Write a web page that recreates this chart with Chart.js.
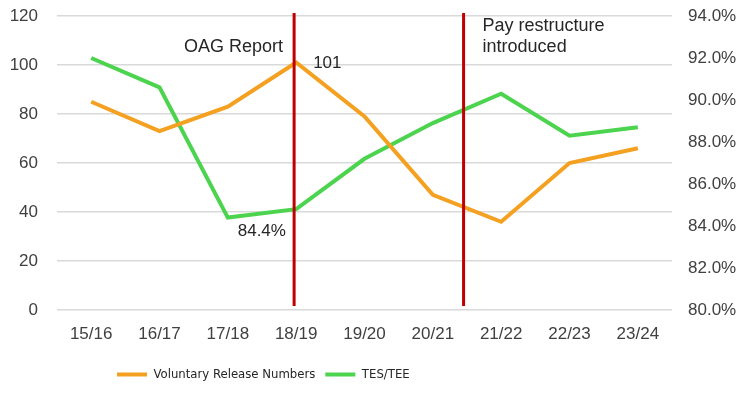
<!DOCTYPE html>
<html>
<head>
<meta charset="utf-8">
<script src="https://cdn.jsdelivr.net/npm/chart.js@4.4.0/dist/chart.umd.min.js"></script>
<style>
  html, body { margin: 0; padding: 0; background: #fff; }
  #wrap { width: 751px; height: 396px; }
</style>
</head>
<body>
<div id="wrap"><canvas id="grafico"></canvas></div>
<script>
// dados
const categorias = ["15/16", "16/17", "17/18", "18/19", "19/20", "20/21", "21/22", "22/23", "23/24"];
const voluntarias = [85, 73, 83, 101, 79, 47, 36, 60, 66];
const tesTee = [92.0, 90.6, 84.4, 84.8, 87.2, 88.9, 90.3, 88.3, 88.7];
const ticksEsquerda = [0, 20, 40, 60, 80, 100, 120];
const ticksDireita = [80, 82, 84, 86, 88, 90, 92, 94];

// marcos verticais (posição no eixo das categorias)
const marcos = [
  { texto: ["OAG Report"], pos: 2.97 },
  { texto: ["Pay restructure", "introduced"], pos: 5.45 }
];

const fonte = "'Liberation Sans', Arial, sans-serif";
const fonteEstreita = "'Liberation Sans Narrow', 'DejaVu Sans Condensed', 'Liberation Sans', sans-serif";
const corTexto = "#404040";

/* ---------- plugin: linhas de marco e rótulos ---------- */
const pluginMarcos = {
  id: "marcos",
  afterLayout(chart) {
    // legenda deslocada para a esquerda, como no original
    if (chart.legend) chart.legend.left = 107;
  },
  afterDatasetsDraw(chart) {
    const { ctx, scales: { x, y } } = chart;
    ctx.save();

    marcos.forEach((m, i) => {
      const px = x.getPixelForValue(m.pos);
      ctx.strokeStyle = "#c00000";
      ctx.lineWidth = 3;
      ctx.beginPath();
      ctx.moveTo(px, y.getPixelForValue(121.2));
      ctx.lineTo(px, y.getPixelForValue(1.6));
      ctx.stroke();

      ctx.fillStyle = "#262626";
      ctx.font = "18px " + fonte;
      ctx.textBaseline = "middle";
      if (i === 0) {
        ctx.textAlign = "right";
        ctx.fillText(m.texto[0], px - 11, y.getPixelForValue(107.3));
      } else {
        ctx.textAlign = "left";
        m.texto.forEach((t, k) => ctx.fillText(t, px + 19, y.getPixelForValue(116) + k * 21));
      }
    });

    // rótulos de dados: pico de desligamentos e mínimo de TES/TEE
    ctx.font = "17px " + fonte;
    ctx.fillStyle = "#262626";
    const p1 = chart.getDatasetMeta(0).data[3];
    ctx.textAlign = "left";
    ctx.fillText(String(voluntarias[3]), p1.x + 17, p1.y + 1);
    const p2 = chart.getDatasetMeta(1).data[2];
    ctx.textAlign = "center";
    ctx.fillText(tesTee[2].toFixed(1) + "%", p2.x + 34, p2.y + 14);

    ctx.restore();
  }
};

Chart.defaults.font.family = fonte;
Chart.defaults.font.size = 17;
Chart.defaults.color = corTexto;

new Chart(document.getElementById("grafico"), {
  type: "line",
  data: {
    labels: categorias,
    datasets: [
      {
        label: "Voluntary Release Numbers",
        data: voluntarias,
        yAxisID: "y",
        borderColor: "#f4a020",
        backgroundColor: "#f4a020",
        borderWidth: 4,
        pointRadius: 0,
        tension: 0
      },
      {
        label: "TES/TEE",
        data: tesTee,
        yAxisID: "y1",
        borderColor: "#4cd44f",
        backgroundColor: "#4cd44f",
        borderWidth: 4,
        pointRadius: 0,
        tension: 0
      }
    ]
  },
  options: {
    responsive: true,
    maintainAspectRatio: false,
    animation: false,
    layout: { padding: { top: 16, bottom: 5, left: 0, right: 0 } },
    plugins: {
      tooltip: { enabled: false },
      legend: {
        position: "bottom",
        align: "start",
        labels: {
          usePointStyle: true,
          pointStyle: "line",
          pointStyleWidth: 30,
          padding: 10,
          color: "#262626",
          font: { family: fonteEstreita, size: 13 }
        }
      }
    },
    scales: {
      x: {
        offset: true,
        grid: { display: false },
        border: { display: false },
        ticks: { padding: 6, maxRotation: 0, autoSkip: false },
        afterFit: s => { s.height = 48; }
      },
      y: {
        position: "left",
        min: 0,
        max: 120,
        afterBuildTicks: s => { s.ticks = ticksEsquerda.map(v => ({ value: v })); },
        grid: { color: "#d9d9d9", lineWidth: 1.5, drawTicks: false },
        border: { display: false },
        ticks: { padding: 19 },
        afterFit: s => { s.width = 57; s.paddingTop = 0; s.paddingBottom = 0; }
      },
      y1: {
        position: "right",
        min: 80,
        max: 94,
        afterBuildTicks: s => { s.ticks = ticksDireita.map(v => ({ value: v })); },
        grid: { display: false, drawTicks: false },
        border: { display: false },
        ticks: { padding: 16, callback: v => v.toFixed(1) + "%" },
        afterFit: s => { s.width = 79; s.paddingTop = 0; s.paddingBottom = 0; }
      }
    }
  },
  plugins: [pluginMarcos]
});
</script>
</body>
</html>
